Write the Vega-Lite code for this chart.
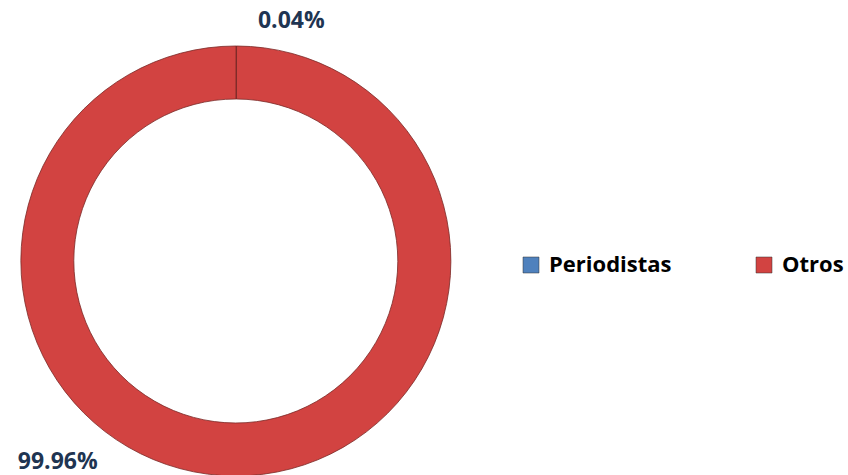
{
  "$schema": "https://vega.github.io/schema/vega-lite/v6.json",
  "width": 430,
  "height": 430,
  "padding": {"left": 17, "top": 10, "right": 0, "bottom": 0},
  "background": "white",
  "config": {"view": {"stroke": null}},
  "data": {
    "values": [
      {"categoria": "Periodistas", "pct": 0.04, "etiqueta": "0.04%"},
      {"categoria": "Otros", "pct": 99.96, "etiqueta": "99.96%"}
    ]
  },
  "encoding": {
    "theta": {"field": "pct", "type": "quantitative", "stack": true},
    "order": {"field": "pct", "type": "quantitative", "sort": "ascending"}
  },
  "layer": [
    {
      "mark": {"type": "arc", "radius": 215, "radius2": 162, "stroke": "#7A2826", "strokeWidth": 0.8},
      "encoding": {
        "color": {
          "field": "categoria",
          "type": "nominal",
          "sort": ["Periodistas", "Otros"],
          "scale": {"domain": ["Periodistas", "Otros"], "range": ["#4F81BD", "#D24341"]},
          "legend": {
            "orient": "none",
            "legendX": 499,
            "legendY": 208,
            "direction": "horizontal",
            "columns": 2,
            "title": null,
            "symbolType": "square",
            "symbolSize": 256,
            "symbolStrokeWidth": 0.5,
            "symbolStrokeColor": "#333333",
            "labelFont": "Open Sans",
            "labelFontSize": 22,
            "labelFontWeight": "bold",
            "labelColor": "#000000",
            "labelOffset": 7,
            "labelLimit": 300,
            "columnPadding": 81
          }
        }
      }
    },
    {
      "mark": {"type": "text", "radius": 240, "dx": 55, "font": "Open Sans", "fontSize": 23, "fontWeight": "bold", "fill": "#1F3552", "align": "center", "baseline": "middle"},
      "encoding": {
        "text": {"condition": {"test": "datum.categoria === 'Periodistas'", "field": "etiqueta"}, "value": ""}
      }
    },
    {
      "mark": {"type": "text", "radius": 201, "dx": -178, "font": "Open Sans", "fontSize": 23, "fontWeight": "bold", "fill": "#1F3552", "align": "center", "baseline": "middle"},
      "encoding": {
        "text": {"condition": {"test": "datum.categoria === 'Otros'", "field": "etiqueta"}, "value": ""}
      }
    }
  ]
}
